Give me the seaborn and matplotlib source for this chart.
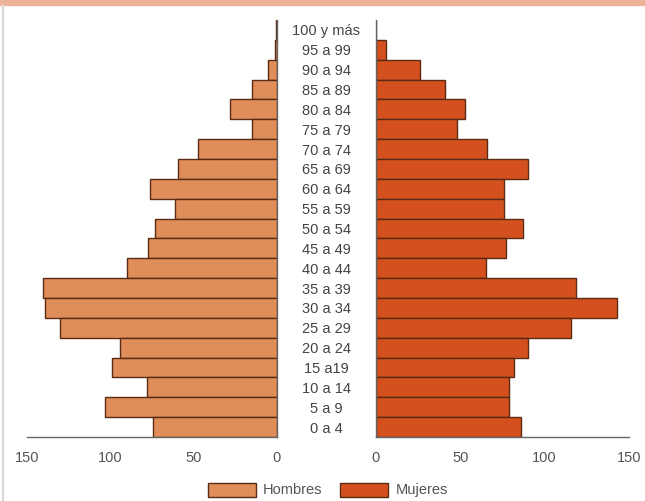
import pandas as pd
import seaborn as sns
import matplotlib.pyplot as plt
from matplotlib.patches import Patch, Rectangle
from matplotlib.lines import Line2D

edades = ["100 y más", "95 a 99", "90 a 94", "85 a 89", "80 a 84", "75 a 79",
          "70 a 74", "65 a 69", "60 a 64", "55 a 59", "50 a 54", "45 a 49",
          "40 a 44", "35 a 39", "30 a 34", "25 a 29", "20 a 24", "15 a19",
          "10 a 14", "5 a 9", "0 a 4"]
hombres = [0.6, 1, 5, 15, 28, 15, 47, 59, 76, 61, 73, 77, 90, 140, 139, 130,
           94, 99, 78, 103, 74]
mujeres = [0, 6, 26, 41, 53, 48, 66, 90, 76, 76, 87, 77, 65, 119, 143, 116,
           90, 82, 79, 79, 86]
ticks = [0, 50, 100, 150]

col_h = "#DF8E59"
col_m = "#D5501F"
borde = "#5A2A12"
gris = "#666666"

sns.set_style("white")
plt.rcParams["font.family"] = ["Liberation Sans", "DejaVu Sans"]

df = pd.DataFrame({"edad": edades, "hombres": hombres, "mujeres": mujeres})

fig = plt.figure(figsize=(6.45, 5.01), dpi=100)
ax1 = fig.add_axes([26.7 / 645, 1 - 437 / 501, 250 / 645, 417 / 501])
ax2 = fig.add_axes([376 / 645, 1 - 437 / 501, 252.7 / 645, 417 / 501])

sns.barplot(data=df, x="hombres", y="edad", order=edades, orient="h",
            color=col_h, edgecolor=borde, linewidth=1, width=1.0,
            saturation=1, ax=ax1)
sns.barplot(data=df, x="mujeres", y="edad", order=edades, orient="h",
            color=col_m, edgecolor=borde, linewidth=1, width=1.0,
            saturation=1, ax=ax2)

for ax in (ax1, ax2):
    ax.set_ylim(len(edades) - 0.5, -0.5)
    ax.set_xticks(ticks)
    ax.set_xticklabels([str(t) for t in ticks])
    ax.set_xlabel("")
    ax.set_ylabel("")
    ax.spines["top"].set_visible(False)
    for s in ax.spines.values():
        s.set_color(gris)
        s.set_linewidth(1)
    ax.tick_params(axis="x", direction="out", length=4, width=1, color=gris,
                   labelsize=10.5, labelcolor="#555555", pad=6)

ax1.set_xlim(150, 0)
ax1.spines["left"].set_visible(False)
ax1.set_yticks([])

ax2.set_xlim(0, 150)
ax2.spines["right"].set_visible(False)
ax2.tick_params(axis="y", length=0, pad=36, labelsize=10.5, labelcolor="#444444")
for lbl in ax2.get_yticklabels():
    lbl.set_horizontalalignment("center")

# marco de la figura
fig.patches.append(Rectangle((0, 1 - 5 / 501), 1, 5 / 501, transform=fig.transFigure,
                             color="#EDB398", zorder=0))
fig.lines.append(Line2D([3 / 645, 3 / 645], [0, 1 - 5 / 501], transform=fig.transFigure,
                        color="#D8D8D8", linewidth=1.5))

handles = [Patch(facecolor=col_h, edgecolor=borde, label="Hombres"),
           Patch(facecolor=col_m, edgecolor=borde, label="Mujeres")]
fig.legend(handles=handles, loc="center", bbox_to_anchor=(0.508, 1 - 490 / 501),
           ncol=2, frameon=False, fontsize=10.5, handlelength=3.3, handleheight=1.1,
           columnspacing=1.2, handletextpad=0.5, labelcolor="#555555")

fig.savefig("out.png", dpi=100)
